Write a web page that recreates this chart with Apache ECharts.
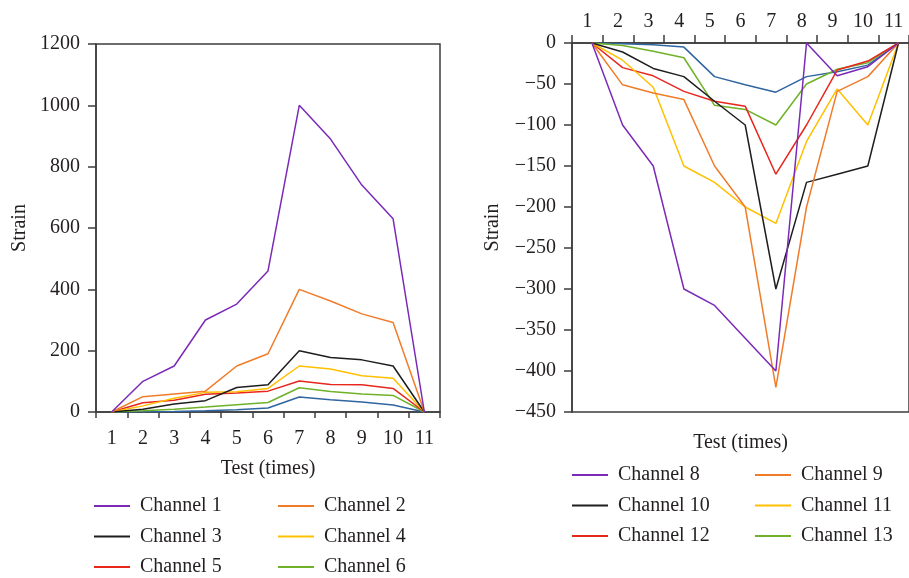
<!DOCTYPE html>
<html><head><meta charset="utf-8">
<script src="https://cdn.jsdelivr.net/npm/echarts@6/dist/echarts.min.js"></script>
<style>html,body{margin:0;padding:0;background:#fff}#c{width:909px;height:578px}</style>
</head><body><div id="c"></div>
<script>
// ---- data ----
const categories = ['1','2','3','4','5','6','7','8','9','10','11'];
const xValues = [1,2,3,4,5,6,7,8,9,10,11];
const leftTicks = [0,200,400,600,800,1000,1200];
const rightTicks = [-450,-400,-350,-300,-250,-200,-150,-100,-50,0];

const ch1 = [0,100,150,300,352,460,1000,890,740,630,0];
const ch2 = [0,50,59,68,150,190,400,362,320,292,0];
const ch3 = [0,9,26,37,80,89,200,178,170,150,0];
const ch4 = [0,20,45,64,66,77,150,140,118,110,0];
const ch5 = [0,30,38,58,62,68,101,90,89,77,0];
const ch6 = [0,4,9,16,24,31,79,67,59,54,0];
const ch7 = [0,1,2,4,7,13,49,40,33,23,0];

const ch8  = [0,-100,-150,-300,-320,-360,-400,0,-40,-29,0];
const ch9  = [0,-51,-61,-69,-150,-200,-420,-200,-59,-41,0];
const ch10 = [0,-11,-31,-41,-71,-100,-300,-170,-160,-150,0];
const ch11 = [0,-21,-54,-150,-170,-200,-220,-120,-56,-100,0];
const ch12 = [0,-30,-40,-59,-71,-77,-160,-100,-33,-22,0];
const ch13 = [0,-3,-10,-18,-76,-81,-100,-50,-32,-24,0];
const ch14 = [0,-1,-2,-5,-41,-51,-60,-41,-35,-27,0];

const C = {purple:'#7B2AB8', orange:'#F07C2A', black:'#1e1e1e', yellow:'#FFC000', red:'#E8261C', green:'#6FB128', blue:'#2F65A0'};

const FONT = 'Liberation Serif';
const TXT = {fontFamily: FONT, fontSize: 20, color: '#231f20'};
const AX = '#3c3c3c';

function leftSeries(name, data, color){
  return {name, type:'line', xAxisIndex:0, yAxisIndex:0, data, symbol:'none', showSymbol:false,
    lineStyle:{color, width:1.5}, itemStyle:{color}};
}
function rightSeries(name, data, color){
  return {name, type:'line', xAxisIndex:2, yAxisIndex:1, data: xValues.map((x,i)=>[x,data[i]]),
    symbol:'none', showSymbol:false, lineStyle:{color, width:1.5}, itemStyle:{color}};
}
function legendCol(data, left, top){
  return {data, orient:'vertical', left, top, itemWidth:36, itemHeight:2, itemGap:10.5,
    icon:'rect', padding:0, textStyle:Object.assign({}, TXT, {padding:[0,0,0,5]})};
}

const chart = echarts.init(document.getElementById('c'));
chart.setOption({
  animation:false,
  backgroundColor:'#fff',
  grid:[
    {left:96, top:44, width:344, height:368, show:true, borderColor:AX, borderWidth:1.5},
    {left:572, top:43, width:343, height:369, show:true, borderColor:AX, borderWidth:1.5}
  ],
  xAxis:[
    {gridIndex:0, type:'category', data:categories, boundaryGap:true, position:'bottom',
     axisLine:{lineStyle:{color:AX, width:1.5}},
     axisTick:{show:true, length:6, lineStyle:{color:AX, width:1.5}},
     axisLabel:Object.assign({}, TXT, {margin:17, interval:0}),
     name:'Test (times)', nameLocation:'middle', nameGap:47, nameTextStyle:TXT},
    {gridIndex:1, type:'category', data:categories, boundaryGap:true, position:'top',
     axisLine:{lineStyle:{color:AX, width:1.5}},
     axisTick:{show:true, length:8, lineStyle:{color:AX, width:1.5}},
     axisLabel:Object.assign({}, TXT, {margin:11, interval:0})},
    {gridIndex:1, type:'value', min:0.35, max:11.343, position:'bottom',
     axisLine:{show:false}, axisTick:{show:false}, axisLabel:{show:false}, splitLine:{show:false},
     name:'Test (times)', nameLocation:'middle', nameGap:21, nameTextStyle:TXT}
  ],
  yAxis:[
    {gridIndex:0, type:'value', min:leftTicks[0], max:leftTicks[leftTicks.length-1], interval:200,
     axisLine:{show:true, lineStyle:{color:AX, width:1.5}},
     axisTick:{show:true, length:8, lineStyle:{color:AX, width:1.5}},
     axisLabel:Object.assign({}, TXT, {margin:16, formatter:v=>String(v)}), splitLine:{show:false},
     name:'Strain', nameLocation:'middle', nameGap:66, nameRotate:90, nameTextStyle:TXT},
    {gridIndex:1, type:'value', min:rightTicks[0], max:rightTicks[rightTicks.length-1], interval:50,
     axisLine:{show:true, lineStyle:{color:AX, width:1.5}},
     axisTick:{show:true, length:8, lineStyle:{color:AX, width:1.5}},
     axisLabel:Object.assign({}, TXT, {margin:16, formatter:v=>String(v).replace('-', '\u2212')}),
     splitLine:{show:false},
     name:'Strain', nameLocation:'middle', nameGap:69, nameRotate:90, nameTextStyle:TXT}
  ],
  legend:[
    legendCol(['Channel 1','Channel 3','Channel 5'], 94, 496),
    legendCol(['Channel 2','Channel 4','Channel 6'], 278, 496),
    legendCol(['Channel 8','Channel 10','Channel 12'], 572, 465),
    legendCol(['Channel 9','Channel 11','Channel 13'], 755, 465)
  ],
  series:[
    leftSeries('Channel 7', ch7, C.blue),
    leftSeries('Channel 6', ch6, C.green),
    leftSeries('Channel 5', ch5, C.red),
    leftSeries('Channel 4', ch4, C.yellow),
    leftSeries('Channel 3', ch3, C.black),
    leftSeries('Channel 2', ch2, C.orange),
    leftSeries('Channel 1', ch1, C.purple),
    rightSeries('Channel 14', ch14, C.blue),
    rightSeries('Channel 13', ch13, C.green),
    rightSeries('Channel 12', ch12, C.red),
    rightSeries('Channel 11', ch11, C.yellow),
    rightSeries('Channel 10', ch10, C.black),
    rightSeries('Channel 9', ch9, C.orange),
    rightSeries('Channel 8', ch8, C.purple)
  ]
});
</script></body></html>
